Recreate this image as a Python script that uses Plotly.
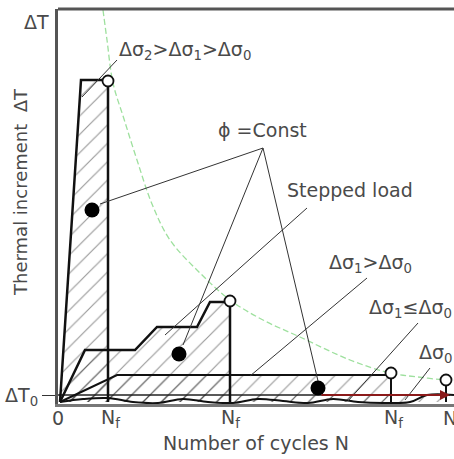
import plotly.graph_objects as go

# ---- schematic data (arbitrary units: N = cycles, dT = thermal increment) ----
tall_N = [2, 23, 50, 50]
tall_dT = [2, 324, 324, 2]

step_N = [2, 27, 77, 99, 139, 152, 168, 172, 172]
step_dT = [2, 54, 54, 77, 77, 102, 102, 104, 2]

mid_N = [2, 59, 333, 333]
mid_dT = [2, 29, 29, 2]

base_N = [2, 388, 388, 2]
base_dT = [2, 2, 9, 9]

wave_N = [2, 25, 50, 75, 100, 125, 150, 175, 200, 225, 250, 275, 300, 325, 352, 369, 396]
wave_dT = [2, 5, 6, 2, 1, 5, 2, 1, 5, 3, 1, 5, 2, 1, 2, 9, 9]

fail_N = [50, 172, 333, 388]
fail_dT = [323, 103, 31, 24]

phi_N = [34, 121, 260]
phi_dT = [194, 50, 16]

green_N = [45, 49, 55, 66, 79, 94, 112, 142, 172, 205, 242, 292, 332, 360, 388, 396]
green_dT = [394, 364, 321, 285, 244, 200, 164, 131, 104, 84, 67, 44, 31, 27, 24, 24]

dT0 = 9
arrow_N = [262, 392]

tick_N = [0, 52, 172, 335, 392]
tick_text = ["0", "N<sub>f</sub>", "N<sub>f</sub>", "N<sub>f</sub>", "N"]

phi_apex = (205, 256)
leader_segments = [
    [(59, 344), (24, 307)],          # Δσ2 > Δσ1 > Δσ0
    [phi_apex, (42, 200)],           # φ = Const -> dot 1
    [phi_apex, (125, 59)],           # φ = Const -> dot 2
    [phi_apex, (260, 23)],           # φ = Const -> dot 3
    [(249, 196), (107, 69)],         # Stepped load
    [(309, 126), (192, 28)],         # Δσ1 > Δσ0
    [(360, 81), (290, 3)],           # Δσ1 ≤ Δσ0
    [(372, 36), (347, 4)],           # Δσ0
]

TXT = "#4a4a4a"
FONT = "DejaVu Sans, Liberation Sans, Arial, sans-serif"

fig = go.Figure()

hatch = dict(shape="/", size=13, solidity=0.09, fgcolor="#333")
for xs, ys in [(base_N, base_dT), (mid_N, mid_dT), (step_N, step_dT), (tall_N, tall_dT)]:
    fig.add_trace(go.Scatter(x=xs, y=ys, mode="lines", fill="toself",
                             fillcolor="rgba(0,0,0,0)", fillpattern=hatch,
                             line=dict(width=0), hoverinfo="skip"))

# green limit curve
fig.add_trace(go.Scatter(x=green_N, y=green_dT, mode="lines", line_shape="spline",
                         line=dict(color="#9ee09e", width=1.3, dash="6px,3px"), hoverinfo="skip"))

# dT0 level line
fig.add_trace(go.Scatter(x=[0, arrow_N[1]], y=[dT0, dT0], mode="lines",
                         line=dict(color="#222", width=1.5), hoverinfo="skip"))

# wavy base curve
fig.add_trace(go.Scatter(x=wave_N, y=wave_dT, mode="lines", line_shape="spline",
                         line=dict(color="#111", width=2), hoverinfo="skip"))

# outlines
for xs, ys, w in [(mid_N, mid_dT, 2), (step_N, step_dT, 2.5), (tall_N, tall_dT, 2.5)]:
    fig.add_trace(go.Scatter(x=xs, y=ys, mode="lines",
                             line=dict(color="#111", width=w), hoverinfo="skip"))
fig.add_trace(go.Scatter(x=[fail_N[3], fail_N[3]], y=[fail_dT[3], 2], mode="lines",
                         line=dict(color="#111", width=2), hoverinfo="skip"))

# leader lines
for seg in leader_segments:
    fig.add_trace(go.Scatter(x=[seg[0][0], seg[1][0]], y=[seg[0][1], seg[1][1]], mode="lines",
                             line=dict(color="#333", width=1), hoverinfo="skip"))

# failure points
fig.add_trace(go.Scatter(x=fail_N, y=fail_dT, mode="markers",
                         marker=dict(symbol="circle", size=11, color="white",
                                     line=dict(color="#111", width=1.8)), hoverinfo="skip"))
# phi = const dots
fig.add_trace(go.Scatter(x=phi_N, y=phi_dT, mode="markers",
                         marker=dict(symbol="circle", size=15, color="#000"), hoverinfo="skip"))

annotations = [
    dict(x=arrow_N[1], y=dT0, ax=arrow_N[0], ay=dT0, axref="x", ayref="y", xref="x", yref="y",
         text="", showarrow=True, arrowhead=2, arrowsize=1, arrowwidth=2, arrowcolor="#8b1a1a"),
    dict(x=-22 / 396, y=382 / 395, xref="paper", yref="paper", text="ΔT", showarrow=False,
         xanchor="center", yanchor="middle"),
    dict(x=127, y=354, xref="x", yref="y", text="Δσ<sub>2</sub>&gt;Δσ<sub>1</sub>&gt;Δσ<sub>0</sub>", showarrow=False),
    dict(x=204, y=274, xref="x", yref="y", text="ϕ =Const", showarrow=False),
    dict(x=292, y=214, xref="x", yref="y", text="Stepped load", showarrow=False),
    dict(x=312, y=141, xref="x", yref="y", text="Δσ<sub>1</sub>&gt;Δσ<sub>0</sub>", showarrow=False),
    dict(x=309, y=96, xref="x", yref="y", xanchor="left", text="Δσ<sub>1</sub>≤Δσ<sub>0</sub>", showarrow=False),
    dict(x=359, y=51, xref="x", yref="y", xanchor="left", text="Δσ<sub>0</sub>", showarrow=False),
    dict(x=0.5, y=-39 / 395, xref="paper", yref="paper", text="Number of cycles N",
         showarrow=False, xanchor="center", yanchor="middle"),
    dict(x=-38 / 396, y=212 / 395, xref="paper", yref="paper", text="Thermal increment  ΔT",
         textangle=-90, showarrow=False, xanchor="center", yanchor="middle",
         font=dict(size=18)),
]
for tx, tt in zip(tick_N, tick_text):
    annotations.append(dict(x=tx, y=-14 / 395, xref="x", yref="paper", text=tt,
                            showarrow=False, xanchor="center", yanchor="middle"))

fig.update_layout(
    width=454, height=459,
    margin=dict(l=58, r=0, t=9, b=55, autoexpand=False),
    paper_bgcolor="white", plot_bgcolor="white",
    showlegend=False,
    font=dict(family=FONT, size=19, color=TXT),
    annotations=annotations,
    shapes=[dict(type="line", xref="paper", yref="paper", x0=0, x1=1, y0=1, y1=1,
                 line=dict(color="#555", width=3))],
    xaxis=dict(range=[0, 396], showline=True, linecolor="#777", linewidth=3, showgrid=False,
               zeroline=False, showticklabels=False, ticks="", fixedrange=True),
    yaxis=dict(range=[0, 395], showline=True, linecolor="#555", linewidth=3, showgrid=False,
               zeroline=False, tickvals=[dT0], ticktext=["ΔT<sub>0</sub>"], ticks="outside",
               ticklen=13, tickcolor="#333", tickwidth=1,
               tickfont=dict(size=19, color=TXT), fixedrange=True),
)

fig.write_html("out.html", config={"displayModeBar": False},
               post_script="document.body.style.margin='0';document.body.style.overflow='hidden';")
